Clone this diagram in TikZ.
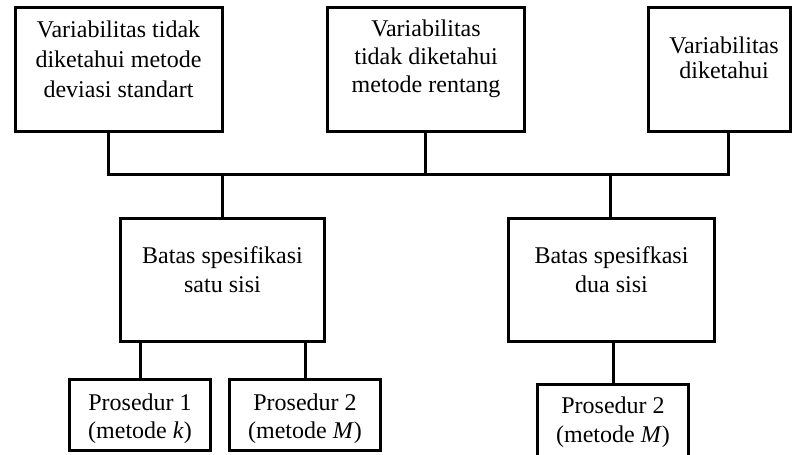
\documentclass[tikz,border=0pt]{standalone}
\usepackage{fontspec}
\setmainfont{Liberation Serif}
\begin{document}
\begin{tikzpicture}[x=1pt,y=-1pt,
  box/.style={draw,line width=3pt,inner sep=0pt},
  lbl/.style={inner sep=0pt,align=center,anchor=base},
  conn/.style={line width=3pt}]
\useasboundingbox (0,0) rectangle (793,455);
% top boxes
\node[box,minimum width=206.5pt,minimum height=124pt] (b1) at (118.75,69.5) {};
\node[box,minimum width=197pt,minimum height=124pt] (b2) at (426,69.5) {};
\node[box,minimum width=142pt,minimum height=124pt] (b3) at (719.5,69.5) {};
% middle boxes
\node[box,minimum width=204pt,minimum height=123pt] (s1) at (222.5,280) {};
\node[box,minimum width=206pt,minimum height=123pt] (s2) at (611.5,280) {};
% bottom boxes
\node[box,minimum width=141pt,minimum height=71pt] (p1) at (140,415) {};
\node[box,minimum width=151pt,minimum height=71pt] (p2) at (305,415) {};
\node[box,minimum width=151pt,minimum height=76pt] (p3) at (613,422.5) {};
% texts (anchor base = baseline of last line)
\node[lbl,font=\fontsize{24}{30}\selectfont] at (118.5,97) {Variabilitas tidak\\diketahui metode\\deviasi standart};
\node[lbl,font=\fontsize{24}{28}\selectfont] at (426,92) {Variabilitas\\tidak diketahui\\metode rentang};
\node[lbl,font=\fontsize{24}{25}\selectfont] at (724,78) {Variabilitas\\diketahui};
\node[lbl,font=\fontsize{24}{29}\selectfont] at (222.5,292) {Batas spesifikasi\\satu sisi};
\node[lbl,font=\fontsize{24}{29}\selectfont] at (611.5,292) {Batas spesifkasi\\dua sisi};
\node[lbl,font=\fontsize{24}{28}\selectfont] at (140,438) {Prosedur 1\\(metode \textit{k})};
\node[lbl,font=\fontsize{24}{28}\selectfont] at (305,438) {Prosedur 2\\(metode \textit{M})};
\node[lbl,font=\fontsize{24}{29}\selectfont] at (613,442) {Prosedur 2\\(metode \textit{M})};
% connectors
\coordinate (busL) at (108,174);
\coordinate (busR) at (728,174);
\coordinate (j2) at (425,174);
\coordinate (j4) at (222,174);
\coordinate (j5) at (610,174);
\draw[conn] (b1.south -| busL) -- (busL) -- (busR) -- (b3.south -| busR);
\draw[conn] (b2.south -| j2) -- (j2);
\draw[conn] (j4) -- (s1.north -| j4);
\draw[conn] (j5) -- (s2.north -| j5);
\draw[conn] (s1.south -| p1.north) -- (p1.north);
\draw[conn] (s1.south -| p2.north) -- (p2.north);
\draw[conn] (s2.south -| p3.north) -- (p3.north);
\end{tikzpicture}
\end{document}
